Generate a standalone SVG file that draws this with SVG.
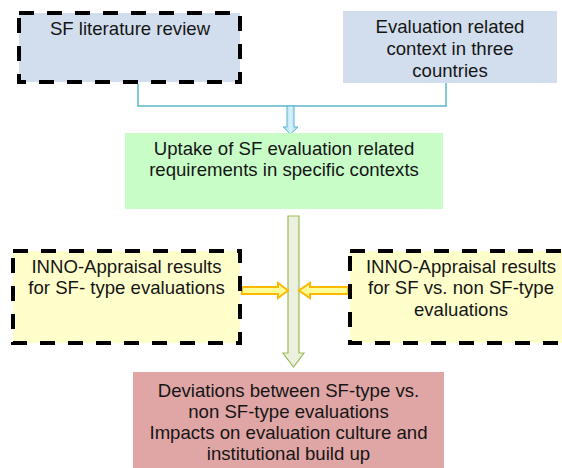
<svg xmlns="http://www.w3.org/2000/svg" width="562" height="468" viewBox="0 0 562 468">
<style>
text{font-family:"Liberation Sans",Arial,sans-serif;font-size:18.6px;fill:#151515;text-anchor:middle}
.dash{stroke:#000;stroke-width:4;stroke-dasharray:15 13}
.blue{fill:#D2DEEE}
.conn{fill:none;stroke:#5BB5CE;stroke-width:1.5}
.yarrow{fill:#FFFF99;stroke:#FFB800;stroke-width:2;stroke-linejoin:miter}
</style>
<defs>
<linearGradient id="bg" x1="0" y1="0" x2="1" y2="0">
<stop offset="0" stop-color="#9FD9EF"/>
<stop offset="0.5" stop-color="#D8F1FA"/>
<stop offset="1" stop-color="#9FD9EF"/>
</linearGradient>
</defs>
<rect width="562" height="468" fill="#fff"/>
<g id="connectors">
<polyline class="conn" points="138,84 138,106 446,106 446,83"/>
<path d="M287,106 H294 V127 H298 L290.5,134 L283,127 H287 Z" fill="url(#bg)" stroke="#5BB5CE" stroke-width="1"/>
<path d="M288,216 H299 V353 H304 L293.5,367 L283,353 H288 Z" fill="#EBF1DE" stroke="#9BBB59" stroke-width="1.2"/>
<path class="yarrow" d="M242,287 H278 V283 L288,290.5 L278,298 V294 H242 Z"/>
<path class="yarrow" d="M348,287 H310 V283 L299,290.5 L310,298 V294 H348 Z"/>
</g>
<g id="sf-literature">
<rect class="blue dash" x="19" y="13" width="221" height="69"/>
<text x="130" y="35">SF literature review</text>
</g>
<g id="evaluation-context">
<rect class="blue" x="343" y="11" width="214" height="72"/>
<text x="450" y="33">Evaluation related</text>
<text x="450" y="55">context in three</text>
<text x="450" y="77">countries</text>
</g>
<g id="uptake">
<rect x="125" y="133" width="318" height="76" fill="#C8FDC8"/>
<text x="284" y="155">Uptake of SF evaluation related</text>
<text x="284" y="176">requirements in specific contexts</text>
</g>
<g id="inno-sf">
<rect class="dash" x="13" y="251" width="227" height="92" fill="#FFFFCC"/>
<text x="126.5" y="273">INNO-Appraisal results</text>
<text x="126.5" y="294">for SF- type evaluations</text>
</g>
<g id="inno-vs">
<rect class="dash" x="350" y="251" width="226" height="92" fill="#FFFFCC"/>
<text x="461" y="273">INNO-Appraisal results</text>
<text x="461" y="294">for SF vs. non SF-type</text>
<text x="461" y="316">evaluations</text>
</g>
<g id="deviations">
<rect x="133" y="372" width="311" height="100" fill="#E0A6A6"/>
<text x="288.5" y="397">Deviations between SF-type vs.</text>
<text x="288.5" y="418">non SF-type evaluations</text>
<text x="288.5" y="439">Impacts on evaluation culture and</text>
<text x="288.5" y="460">institutional build up</text>
</g>
</svg>
